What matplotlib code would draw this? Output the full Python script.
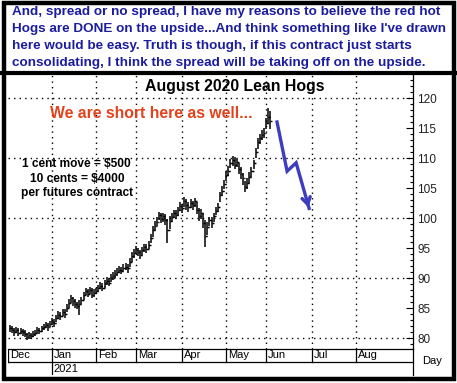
import matplotlib
matplotlib.use('Agg')
import matplotlib.pyplot as plt
from matplotlib.ticker import MultipleLocator
from matplotlib.lines import Line2D
from matplotlib.patches import Rectangle

plt.rcParams['font.family'] = ['Liberation Sans', 'DejaVu Sans']

# Daily bars, August lean hogs (cents/lb)
closes = [81.6, 81.3, 81.0, 81.4, 80.9, 81.2, 81.0, 80.6, 80.1, 80.5,
          80.3, 80.7, 80.9, 81.3, 81.1, 81.6, 81.9, 82.2, 81.8, 82.4,
          82.7, 82.5, 83.4, 83.9, 83.6, 84.3, 84.0, 85.0, 85.9, 86.6,
          86.1, 85.7, 85.4, 85.6, 86.4, 87.1, 87.8, 87.4, 88.0, 87.2,
          87.5, 87.9, 88.3, 88.7, 88.4, 89.1, 89.5, 89.2, 90.0, 90.4,
          90.6, 91.0, 91.4, 91.2, 91.7, 91.9, 91.6, 92.7, 93.6, 94.1,
          94.7, 94.3, 93.9, 94.6, 95.1, 94.8, 95.5, 96.6, 98.0, 98.7,
          99.4, 100.5, 99.9, 100.3, 99.6, 98.0, 99.5, 100.2, 100.8, 100.5,
          101.3, 102.0, 101.6, 102.9, 102.2, 101.8, 102.5, 102.1, 102.8, 101.4,
          100.3, 100.9, 99.2, 97.0, 98.5, 99.6, 99.2, 100.3, 101.2, 101.8,
          103.8, 104.5, 105.7, 107.2, 107.9, 109.2, 109.6, 108.9, 109.3, 108.2,
          107.4, 106.6, 105.2, 105.8, 106.9, 107.8, 109.1, 111.0, 112.6, 113.3,
          113.8, 114.2, 115.9, 116.8, 116.2]
highs = [82.2, 82.0, 81.7, 81.8, 81.6, 81.7, 81.5, 81.3, 80.9, 81.0,
         80.9, 81.2, 81.4, 81.8, 81.7, 82.0, 82.4, 82.6, 82.5, 82.9,
         83.3, 83.1, 83.9, 84.5, 84.3, 84.8, 84.9, 85.6, 86.5, 87.1,
         86.9, 86.5, 86.0, 86.3, 86.9, 87.6, 88.4, 88.2, 88.5, 88.3,
         88.1, 88.4, 88.9, 89.3, 89.1, 89.6, 90.1, 90.0, 90.6, 91.0,
         91.3, 91.6, 92.0, 91.9, 92.3, 92.5, 92.3, 93.3, 94.4, 94.8,
         95.3, 95.0, 94.6, 95.2, 95.7, 95.6, 96.1, 97.3, 98.7, 99.5,
         100.1, 101.0, 100.8, 100.9, 100.6, 99.8, 100.3, 100.9, 101.4, 101.3,
         101.9, 102.6, 102.4, 103.5, 103.2, 102.6, 103.1, 102.9, 103.4, 102.6,
         101.6, 101.5, 100.8, 99.6, 99.3, 100.2, 100.1, 100.8, 101.8, 102.5,
         104.4, 105.3, 106.3, 107.9, 108.6, 109.9, 110.3, 110.1, 109.9, 109.2,
         108.5, 107.5, 106.2, 106.6, 107.6, 108.5, 109.7, 111.6, 113.3, 114.0,
         114.6, 115.0, 116.6, 118.3, 117.8]
lows = [81.0, 80.8, 80.4, 80.8, 80.3, 80.6, 80.3, 80.1, 79.6, 79.9,
        79.8, 80.2, 80.4, 80.8, 80.6, 81.0, 81.4, 81.7, 81.2, 81.8,
        82.1, 81.9, 82.6, 83.2, 83.0, 83.7, 83.4, 84.3, 85.0, 85.9,
        85.4, 85.0, 84.8, 83.8, 85.6, 86.3, 87.1, 86.8, 87.3, 86.6,
        86.8, 87.3, 87.6, 88.1, 87.8, 88.4, 88.9, 88.6, 89.3, 89.7,
        90.0, 90.3, 90.8, 90.6, 91.1, 91.3, 90.9, 91.8, 92.6, 93.3,
        94.0, 93.7, 93.2, 93.8, 94.4, 94.2, 94.8, 95.8, 96.9, 97.9,
        98.6, 99.6, 99.1, 99.4, 98.8, 95.8, 98.2, 99.4, 100.0, 99.8,
        100.4, 101.2, 100.9, 101.8, 101.4, 101.0, 101.6, 101.3, 101.9, 100.6,
        99.5, 99.9, 98.3, 95.2, 97.2, 98.6, 98.3, 99.4, 100.5, 101.0,
        102.6, 103.6, 104.8, 106.1, 107.0, 108.3, 108.7, 108.2, 108.5, 107.4,
        106.5, 105.5, 104.3, 104.9, 105.9, 106.9, 108.2, 110.0, 111.5, 112.4,
        113.0, 113.4, 114.9, 115.6, 114.9]

months = ['Dec', 'Jan', 'Feb', 'Mar', 'Apr', 'May', 'Jun', 'Jul', 'Aug']
month_start = [0, 21, 42, 61, 83, 104, 123, 145, 166]

# hand drawn projection
arrow_x = [128.2, 133.0, 137.3, 143.5]
arrow_y = [116.0, 107.8, 109.2, 101.6]

W, H = 457, 383
fig = plt.figure(figsize=(W / 100, H / 100), dpi=100)


def fx(px):
    return px / W


def fy(py):
    return 1 - py / H


# price panel
ax = fig.add_axes([fx(8), fy(349), fx(413) - fx(8), fy(74) - fy(349)])
ax.set_xlim(0, 193)
ax.set_ylim(78.17, 124.0)

idx = list(range(1, len(closes) + 1))
ax.vlines(idx, lows, highs, color='black', lw=1.1)
ax.hlines(closes, idx, [i + 0.7 for i in idx], color='black', lw=1.0)
opens = [closes[0]] + closes[:-1]
ax.hlines(opens, [i - 0.7 for i in idx], idx, color='black', lw=1.0)

for lvl in range(80, 121, 10):
    ax.axhline(lvl, color='black', lw=1.0, ls=(0, (1, 3)), zorder=0)
for m in month_start[1:]:
    ax.axvline(m, color='black', lw=1.0, ls=(0, (1, 3)), zorder=0)

ax.plot(arrow_x, arrow_y, color='#3d3dbd', lw=2.4, solid_joinstyle='miter')
ax.annotate('', xy=(arrow_x[-1], arrow_y[-1] - 0.3),
            xytext=(arrow_x[-2] + (arrow_x[-1] - arrow_x[-2]) * 0.8,
                    arrow_y[-2] + (arrow_y[-1] - arrow_y[-2]) * 0.8),
            arrowprops=dict(arrowstyle='->,head_length=0.5,head_width=0.3',
                            color='#3d3dbd', lw=2.4))

ax.yaxis.tick_right()
ax.yaxis.set_major_locator(MultipleLocator(5))
ax.yaxis.set_minor_locator(MultipleLocator(1))
ax.tick_params(axis='y', which='major', direction='in', length=5, width=0.8,
               labelsize=8.5, pad=3, labelcolor='#222222')
ax.tick_params(axis='y', which='minor', direction='in', length=2.5, width=0.8)
ax.set_xticks([])
for s in ['left', 'top']:
    ax.spines[s].set_visible(False)
ax.spines['right'].set_linewidth(0.9)
ax.spines['bottom'].set_linewidth(0.9)

ax.text(0.56, 0.955, 'August 2020 Lean Hogs', transform=ax.transAxes,
        ha='center', va='center', fontsize=11.4, fontweight='bold')
ax.text(0.353, 0.858, 'We are short here as well...', transform=ax.transAxes,
        ha='center', va='center', fontsize=11.3, fontweight='bold',
        color='#e2421c')
ax.text(0.17, 0.62, '1 cent move = $500\n10 cents = $4000\nper futures contract',
        transform=ax.transAxes, ha='center', va='center', fontsize=8.6,
        fontweight='bold', linespacing=1.3)

# month / year band below the chart
bx = fig.add_axes([fx(8), fy(375), fx(413) - fx(8), fy(349) - fy(375)])
bx.set_xlim(0, 193)
bx.set_ylim(0, 2)
bx.axis('off')
bx.axhline(1, color='black', lw=0.9)
for m, name in zip(month_start, months):
    bx.plot([m, m], [1, 2], color='black', lw=0.9)
    bx.text(m + 0.8, 1.5, name, ha='left', va='center', fontsize=8)
bx.plot([month_start[1], month_start[1]], [0, 1], color='black', lw=0.9)
bx.text(month_start[1] + 0.8, 0.5, '2021', ha='left', va='center', fontsize=8)
bx.plot([193, 193], [0, 2], color='black', lw=0.9, clip_on=False)
fig.text(fx(432), fy(361), 'Day', ha='center', va='center', fontsize=8)

# commentary box at top
note = ["And, spread or no spread, I have my reasons to believe the red hot",
        "Hogs are DONE on the upside...And think something like I've drawn",
        "here would be easy. Truth is though, if this contract just starts",
        "consolidating, I think the spread will be taking off on the upside."]
for i, line in enumerate(note):
    fig.text(fx(12), fy(12.5 + i * 16.7), line, ha='left', va='center',
             fontsize=9.7, fontweight='bold', color='#1c1c9e')

# frame
fig.add_artist(Line2D([fx(0), fx(457)], [fy(73), fy(73)], color='black', lw=3))
fig.add_artist(Rectangle((fx(3.5), fy(379)), fx(450), fy(3) - fy(379),
                         fill=False, ec='black', lw=3.2, transform=fig.transFigure))

fig.savefig('out.png', dpi=100)
